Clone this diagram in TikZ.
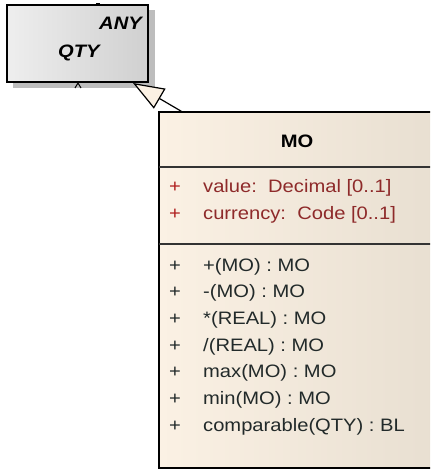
\documentclass[tikz,border=0pt]{standalone}
\usepackage{fontspec}
\setmainfont{Liberation Sans}[FakeStretch=1.12]
\usetikzlibrary{arrows.meta}
\definecolor{creamL}{HTML}{FBF1E4}
\definecolor{creamR}{HTML}{E8DFD1}
\definecolor{grayL}{HTML}{EEEEEE}
\definecolor{grayR}{HTML}{D0D0D0}
\definecolor{shadowgray}{HTML}{BDBDBD}
\definecolor{attrcol}{HTML}{8E2A2A}
\definecolor{pluscol}{HTML}{B02020}
\definecolor{opcol}{HTML}{222A2A}
\tikzset{
  txt/.style={inner sep=0pt, font=\fontsize{18}{20}\selectfont},
  plus/.style={txt, anchor=base, text=pluscol},
  attr/.style={txt, anchor=base west, text=attrcol},
  oper/.style={txt, anchor=base west, text=opcol},
  opplus/.style={txt, anchor=base, text=opcol},
}
\begin{document}
\begin{tikzpicture}[x=1pt,y=-1pt]
\useasboundingbox (0,0) rectangle (430,470);
\clip (0,0) rectangle (430,470);
% QTY class
\fill[shadowgray] (13,10) rectangle (155,88);
\node[draw, line width=2pt, left color=grayL, right color=grayR, minimum width=141pt, minimum height=77pt, inner sep=0pt] (qty) at (77.5,43.5) {};
\node[txt, anchor=base east, font=\fontsize{18}{20}\selectfont\bfseries\itshape] (any) at (142,30) {ANY};
\node[txt, anchor=base west, font=\fontsize{18}{20}\selectfont\bfseries\itshape] (qtyname) at (58,58) {QTY};
% connector stubs
\coordinate (stubtop) at ([xshift=20pt]qty.north);
\fill ([xshift=-2pt,yshift=-2pt]stubtop) rectangle ([xshift=2pt,yshift=1pt]stubtop);
\coordinate (stubbot) at ([xshift=0.5pt]qty.south);
\draw[line width=1pt] ([xshift=-3pt,yshift=-5pt]stubbot) -- (stubbot) -- ([xshift=3pt,yshift=-5pt]stubbot);
% MO class
\node[draw, line width=1.5pt, left color=creamL, right color=creamR, minimum width=277pt, minimum height=356pt, inner sep=0pt] (mo) at (297.5,290) {};
\draw[line width=1.5pt, black!80] (159,167) -- (436,167);
\draw[line width=1.5pt, black!80] (159,244) -- (436,244);
\node[txt, anchor=base, font=\fontsize{18}{20}\selectfont\bfseries] (moname) at (297,148) {MO};
% attributes
\node[plus] (p1) at (175,193) {+};
\node[attr] (a1) at (203,193) {value:\ \ Decimal [0..1]};
\node[plus] (p2) at (175,219) {+};
\node[attr] (a2) at (203,219) {currency:\ \ Code [0..1]};
% operations
\node[opplus] (q1) at (175,271) {+};
\node[oper] (o1) at (203,271) {+(MO) : MO};
\node[opplus] (q2) at (175,297.7) {+};
\node[oper] (o2) at (203,297.7) {-(MO) : MO};
\node[opplus] (q3) at (175,324.3) {+};
\node[oper] (o3) at (203,324.3) {*(REAL) : MO};
\node[opplus] (q4) at (175,351) {+};
\node[oper] (o4) at (203,351) {/(REAL) : MO};
\node[opplus] (q5) at (175,377.7) {+};
\node[oper] (o5) at (203,377.7) {max(MO) : MO};
\node[opplus] (q6) at (175,404.3) {+};
\node[oper] (o6) at (203,404.3) {min(MO) : MO};
\node[opplus] (q7) at (175,431) {+};
\node[oper] (o7) at (203,431) {comparable(QTY) : BL};
% generalization
\coordinate (gs) at ([xshift=23pt]mo.north west);
\coordinate (gt) at ([xshift=-16pt]qty.south east);
\draw[line width=1.2pt, -{Triangle[length=31pt,width=23pt,fill=creamL]}] (gs) -- (gt);
\end{tikzpicture}
\end{document}
